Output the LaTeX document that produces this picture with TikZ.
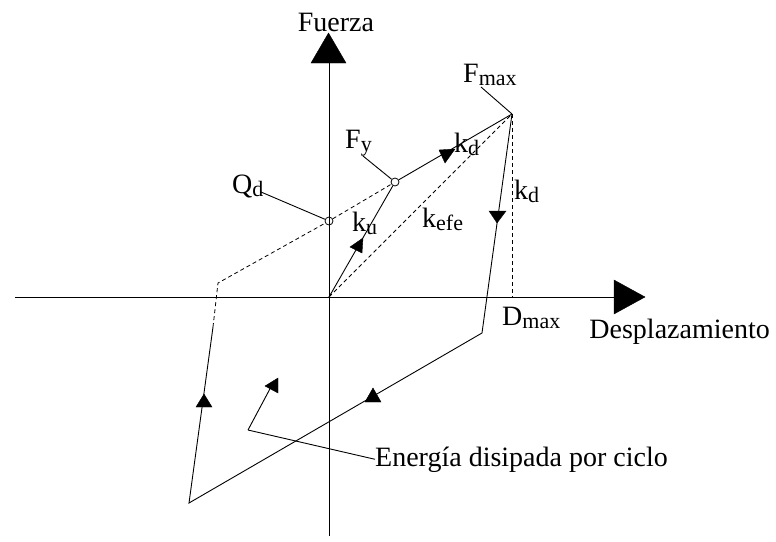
\documentclass[tikz,border=0pt]{standalone}
\usepackage{fontspec}
\setmainfont{Liberation Serif}
\newcommand\sbs[1]{\raisebox{-0.12em}{\fontsize{22}{22}\selectfont #1}}
\begin{document}
\begin{tikzpicture}[x=1pt,y=-1pt,
  ln/.style={line width=0.9pt,black},
  dsh/.style={line width=0.8pt,black,dash pattern=on 4pt off 3pt},
  tri/.style={fill=black,draw=black,line width=0.4pt},
  lbl/.style={inner sep=0pt,font=\fontsize{28}{28}\selectfont},
  ring/.style={circle,draw,line width=0.8pt,minimum size=8pt,inner sep=0pt}]
\useasboundingbox (0,0) rectangle (776,541);
% key points
\coordinate (O) at (329,297);
\coordinate (Fm) at (512,114);
\coordinate (BR) at (482,333);
\coordinate (BL) at (189,503);
\coordinate (L2) at (213,327);
\coordinate (L1) at (218,283);
\coordinate (Dm) at (512,297);
\coordinate (Ybot) at (329,536);
\coordinate (Ytop) at (329,63);
\coordinate (Xl) at (15,297);
\coordinate (Xr) at (614,297);
\coordinate (E0) at (248,430);
\coordinate (E1) at (272,385);
\node[ring] (Qd) at (329,221) {};
\node[ring] (Fy) at (395,182) {};
% axes
\draw[ln] (Ybot) -- (Ytop);
\draw[ln] (Xl) -- (Xr);
\fill[tri] (311,63) -- (346,63) -- (328.5,33) -- cycle;
\fill[tri] (614,280) -- (614,314) -- (645,297) -- cycle;
% loop
\draw[ln] (O) -- (Fy);
\draw[ln] (Fy) -- (Fm);
\draw[ln] (Fm) -- (BR) -- (BL) -- (L2);
\draw[dsh] (L2) -- (L1) -- (Qd);
\draw[dsh] (Qd) -- (Fy);
\draw[dsh] (O) -- (Fm);
\draw[dsh] (Fm) -- (Dm);
% direction triangles
\fill[tri] (350,247) -- (363,238) -- (362,253) -- cycle;
\fill[tri] (439,150) -- (455,149) -- (445,163) -- cycle;
\fill[tri] (489,211) -- (506,211) -- (497,223) -- cycle;
\fill[tri] (373,388) -- (365,402) -- (381,402) -- cycle;
\fill[tri] (204,394) -- (196,407) -- (212,407) -- cycle;
% energy pointer
\draw[ln] (E1) -- (E0);
\fill[tri] (265,386) -- (278,378) -- (278,393) -- cycle;
% labels
\node[lbl] (tFu) at (336,22) {Fuerza};
\node[lbl,anchor=base west] (tFm) at (463,82) {F\sbs{max}};
\node[lbl,anchor=base west] (tFy) at (345,148) {F\sbs{y}};
\node[lbl,anchor=base west] (tQd) at (232,193) {Q\sbs{d}};
\node[lbl,anchor=base west] (tkd1) at (454,152) {k\sbs{d}};
\node[lbl,anchor=base west] (tkd2) at (514,199) {k\sbs{d}};
\node[lbl,anchor=base west] (tku) at (352,231) {k\sbs{u}};
\node[lbl,anchor=base west] (tke) at (422,227) {k\sbs{efe}};
\node[lbl,anchor=base west] (tDm) at (502,325) {D\sbs{max}};
\node[lbl,anchor=base east] (tDe) at (770,338) {Desplazamiento};
\node[lbl,anchor=base west] (tEn) at (375,466) {Energía disipada por ciclo};
% leaders
\draw[ln] (481,87) -- (Fm);
\draw[ln] (363,156) -- (Fy);
\draw[ln] (261,192) -- (Qd);
\draw[ln] (E0) -- (tEn.west);
\end{tikzpicture}
\end{document}
